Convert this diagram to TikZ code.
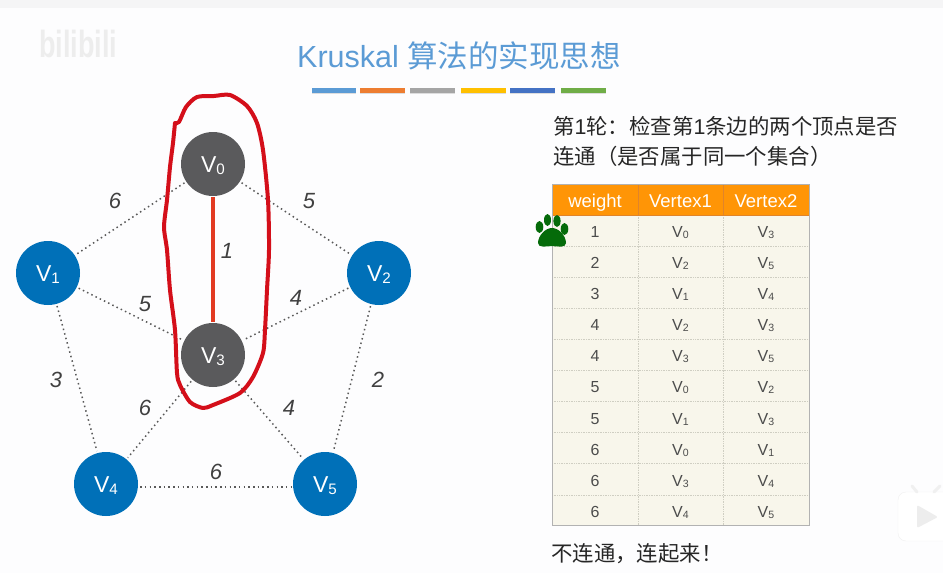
\documentclass[tikz,border=0pt]{standalone}
\usepackage{fontspec}
\setmainfont{Liberation Sans}
\newfontfamily\cjk{Noto Sans CJK SC}
\usepackage{tikz}
\usetikzlibrary{shadows}
\definecolor{pagebg}{HTML}{FDFDFE}
\definecolor{topband}{HTML}{F5F5F6}
\definecolor{titleblue}{HTML}{5B9BD5}
\definecolor{barorange}{HTML}{ED7D31}
\definecolor{bargray}{HTML}{A5A5A5}
\definecolor{baryellow}{HTML}{FFC000}
\definecolor{barblue}{HTML}{4472C4}
\definecolor{bargreen}{HTML}{70AD47}
\definecolor{vblue}{HTML}{0070B8}
\definecolor{vgray}{HTML}{5A5A5C}
\definecolor{loopred}{HTML}{D40F1A}
\definecolor{edgered}{HTML}{E23A22}
\definecolor{headorange}{HTML}{FF9506}
\definecolor{headline}{HTML}{E0842A}
\definecolor{cellbg}{HTML}{F8F6EB}
\definecolor{cellline}{HTML}{CFCEC2}
\definecolor{pawgreen}{HTML}{056B0A}
\newcommand{\vname}[1]{V\raisebox{-0.17ex}{\scalebox{0.66}{#1}}}
\tikzset{
    vertex/.style={circle, minimum size=64pt, inner sep=0pt, text=white, text height=17pt, text depth=0pt, font=\fontsize{23}{26}\selectfont},
    bluevertex/.style={vertex, fill=vblue},
    grayvertex/.style={vertex, fill=vgray},
    edge/.style={line width=1.5pt, dash pattern=on 1.5pt off 3.2pt, draw=black!65, shorten >=2pt, shorten <=2pt},
    chosen/.style={line width=3.2pt, draw=edgered, shorten >=1pt, shorten <=1pt},
    weightlabel/.style={inner sep=0pt, text=black!75, font=\fontsize{22}{26}\selectfont\itshape},
    headcell/.style={inner sep=0pt, text=white, text height=14pt, text depth=0pt, font=\fontsize{18.5}{20}\selectfont},
    cell/.style={inner sep=0pt, text=black!70, text height=12pt, text depth=0pt, font=\fontsize{16}{18}\selectfont},
    note/.style={inner sep=0pt, text=black!85, font=\fontsize{21.4}{30}\selectfont},
    gridline/.style={cellline, line width=0.7pt, densely dotted},
    bar/.style={drop shadow={shadow xshift=0pt, shadow yshift=-1.3pt, opacity=0.25}}
}
\begin{document}
\begin{tikzpicture}[x=1pt, y=-1pt]
    % Page
    \useasboundingbox (0,0) rectangle (943,573);
    \fill[pagebg] (0,0) rectangle (943,573);
    \fill[topband] (0,0) rectangle (943,8);
    % Watermark
    \node[inner sep=0pt, text=black!7, font=\fontsize{27}{30}\selectfont\bfseries] (logo) at (78,44) {\scalebox{1}[1.4]{bilibili}};
    % Play button
    \fill[white, draw=black!6, rounded corners=8pt] (943,492) -- (898,492) -- (898,541) -- (943,541);
    \draw[black!6, line width=3pt, line cap=round] (912,486) -- (917,492);
    \draw[black!6, line width=3pt, line cap=round] (940,486) -- (934,492);
    \fill[black!7, rounded corners=2pt] (917,505) -- (938,517) -- (917,528) -- cycle;
    % Title
    \node[inner sep=0pt, text=titleblue, font=\fontsize{30.5}{34}\selectfont] (title) at (459,56) {Kruskal {\cjk 算法的实现思想}};
    \fill[titleblue, bar] (312,87.5) rectangle (356,92.5);
    \fill[barorange, bar] (360,87.5) rectangle (405,92.5);
    \fill[bargray, bar] (410,87.5) rectangle (455,92.5);
    \fill[baryellow, bar] (461,87.5) rectangle (506,92.5);
    \fill[barblue, bar] (510,87.5) rectangle (555,92.5);
    \fill[bargreen, bar] (561,87.5) rectangle (606,92.5);
    % Vertices
    \node[grayvertex] (V0) at (213,164) {\vname{0}};
    \node[bluevertex] (V1) at (48,273) {\vname{1}};
    \node[bluevertex] (V2) at (379,273) {\vname{2}};
    \node[grayvertex] (V3) at (213,355) {\vname{3}};
    \node[bluevertex] (V4) at (106,484) {\vname{4}};
    \node[bluevertex] (V5) at (325,484) {\vname{5}};
    % Edges
    \draw[edge] (V0) -- (V1);
    \draw[edge] (V0) -- (V2);
    \draw[edge] (V1) -- (V3);
    \draw[edge] (V2) -- (V3);
    \draw[edge] (V1) -- (V4);
    \draw[edge] (V2) -- (V5);
    \draw[edge] (V3) -- (V4);
    \draw[edge] (V3) -- (V5);
    \draw[edge] ([yshift=-3pt]V4.east) -- ([yshift=-3pt]V5.west);
    \draw[chosen] (V0) -- (V3);
    % Edge weights
    \node[weightlabel] (w01) at (115,201) {6};
    \node[weightlabel] (w02) at (309,201) {5};
    \node[weightlabel] (w03) at (227,251) {1};
    \node[weightlabel] (w13) at (145,304) {5};
    \node[weightlabel] (w23) at (296,298) {4};
    \node[weightlabel] (w14) at (56,380) {3};
    \node[weightlabel] (w25) at (378,380) {2};
    \node[weightlabel] (w34) at (145,408) {6};
    \node[weightlabel] (w35) at (289,408) {4};
    \node[weightlabel] (w45) at (216,472) {6};
    % Hand drawn loop
    \draw[loopred, line width=4pt, line join=round, line cap=round] plot[smooth, tension=0.45] coordinates {
        (175,123) (179,122) (186,107) (197,97) (214,96) (230,95) (247,106) (257,123) (263,150)
        (268,200) (269,250) (267,290) (265,330) (263,353) (253,377) (240,393) (213,405) (203,408)
        (190,402) (180,385) (177,373) (175,330) (170,290) (167,250) (164,227) (167,200) (170,167)
        (173,143) (175,123)};
    % Note
    \node[note, anchor=west, align=left] (note) at (553,141.5) {{\cjk 第}1{\cjk 轮：检查第}1{\cjk 条边的两个顶点是否}\\{\cjk 连通（是否属于同一个集合）}};
    % Table
    \fill[cellbg] (552,215) rectangle (809,525.5);
    \fill[headorange] (552,184) rectangle (809,215);
    \draw[gridline] (552,246.1) -- (809,246.1);
    \draw[gridline] (552,277.2) -- (809,277.2);
    \draw[gridline] (552,308.3) -- (809,308.3);
    \draw[gridline] (552,339.4) -- (809,339.4);
    \draw[gridline] (552,370.5) -- (809,370.5);
    \draw[gridline] (552,401.6) -- (809,401.6);
    \draw[gridline] (552,432.7) -- (809,432.7);
    \draw[gridline] (552,463.8) -- (809,463.8);
    \draw[gridline] (552,494.9) -- (809,494.9);
    \draw[gridline] (638,215) -- (638,525.5);
    \draw[gridline] (723,215) -- (723,525.5);
    \draw[headline, line width=0.7pt] (638,184) -- (638,215);
    \draw[headline, line width=0.7pt] (723,184) -- (723,215);
    \draw[headline, line width=0.7pt] (552,215) -- (809,215);
    \draw[black!30, line width=1pt] (552,184) rectangle (809,525.5);
    % Table text
    \node[headcell] (head1) at (595,200) {weight};
    \node[headcell] (head2) at (680.5,200) {Vertex1};
    \node[headcell] (head3) at (766,200) {Vertex2};
    \node[cell] (r1w) at (595,231) {1}; \node[cell] (r1a) at (680.5,231) {\vname{0}}; \node[cell] (r1b) at (766,231) {\vname{3}};
    \node[cell] (r2w) at (595,262) {2}; \node[cell] (r2a) at (680.5,262) {\vname{2}}; \node[cell] (r2b) at (766,262) {\vname{5}};
    \node[cell] (r3w) at (595,293) {3}; \node[cell] (r3a) at (680.5,293) {\vname{1}}; \node[cell] (r3b) at (766,293) {\vname{4}};
    \node[cell] (r4w) at (595,324) {4}; \node[cell] (r4a) at (680.5,324) {\vname{2}}; \node[cell] (r4b) at (766,324) {\vname{3}};
    \node[cell] (r5w) at (595,355) {4}; \node[cell] (r5a) at (680.5,355) {\vname{3}}; \node[cell] (r5b) at (766,355) {\vname{5}};
    \node[cell] (r6w) at (595,386) {5}; \node[cell] (r6a) at (680.5,386) {\vname{0}}; \node[cell] (r6b) at (766,386) {\vname{2}};
    \node[cell] (r7w) at (595,418) {5}; \node[cell] (r7a) at (680.5,418) {\vname{1}}; \node[cell] (r7b) at (766,418) {\vname{3}};
    \node[cell] (r8w) at (595,449) {6}; \node[cell] (r8a) at (680.5,449) {\vname{0}}; \node[cell] (r8b) at (766,449) {\vname{1}};
    \node[cell] (r9w) at (595,480) {6}; \node[cell] (r9a) at (680.5,480) {\vname{3}}; \node[cell] (r9b) at (766,480) {\vname{4}};
    \node[cell] (r10w) at (595,511) {6}; \node[cell] (r10a) at (680.5,511) {\vname{4}}; \node[cell] (r10b) at (766,511) {\vname{5}};
    % Paw
    \fill[pawgreen] (539.5,227) ellipse (3.8 and 6);
    \fill[pawgreen] (547.5,220) ellipse (3.5 and 6);
    \fill[pawgreen] (557,221) ellipse (3.6 and 6);
    \fill[pawgreen] (564.5,229) ellipse (3.8 and 6);
    \fill[pawgreen] (538,243) .. controls (538,236) and (545,228) .. (552,228) .. controls (559,228) and (566,236) .. (566,243) .. controls (566,248) and (558,246.5) .. (552,246) .. controls (546,246.5) and (538,248) .. (538,243);
    % Conclusion
    \node[note, anchor=west] (result) at (551,554) {\cjk 不连通，连起来！};
\end{tikzpicture}
\end{document}
